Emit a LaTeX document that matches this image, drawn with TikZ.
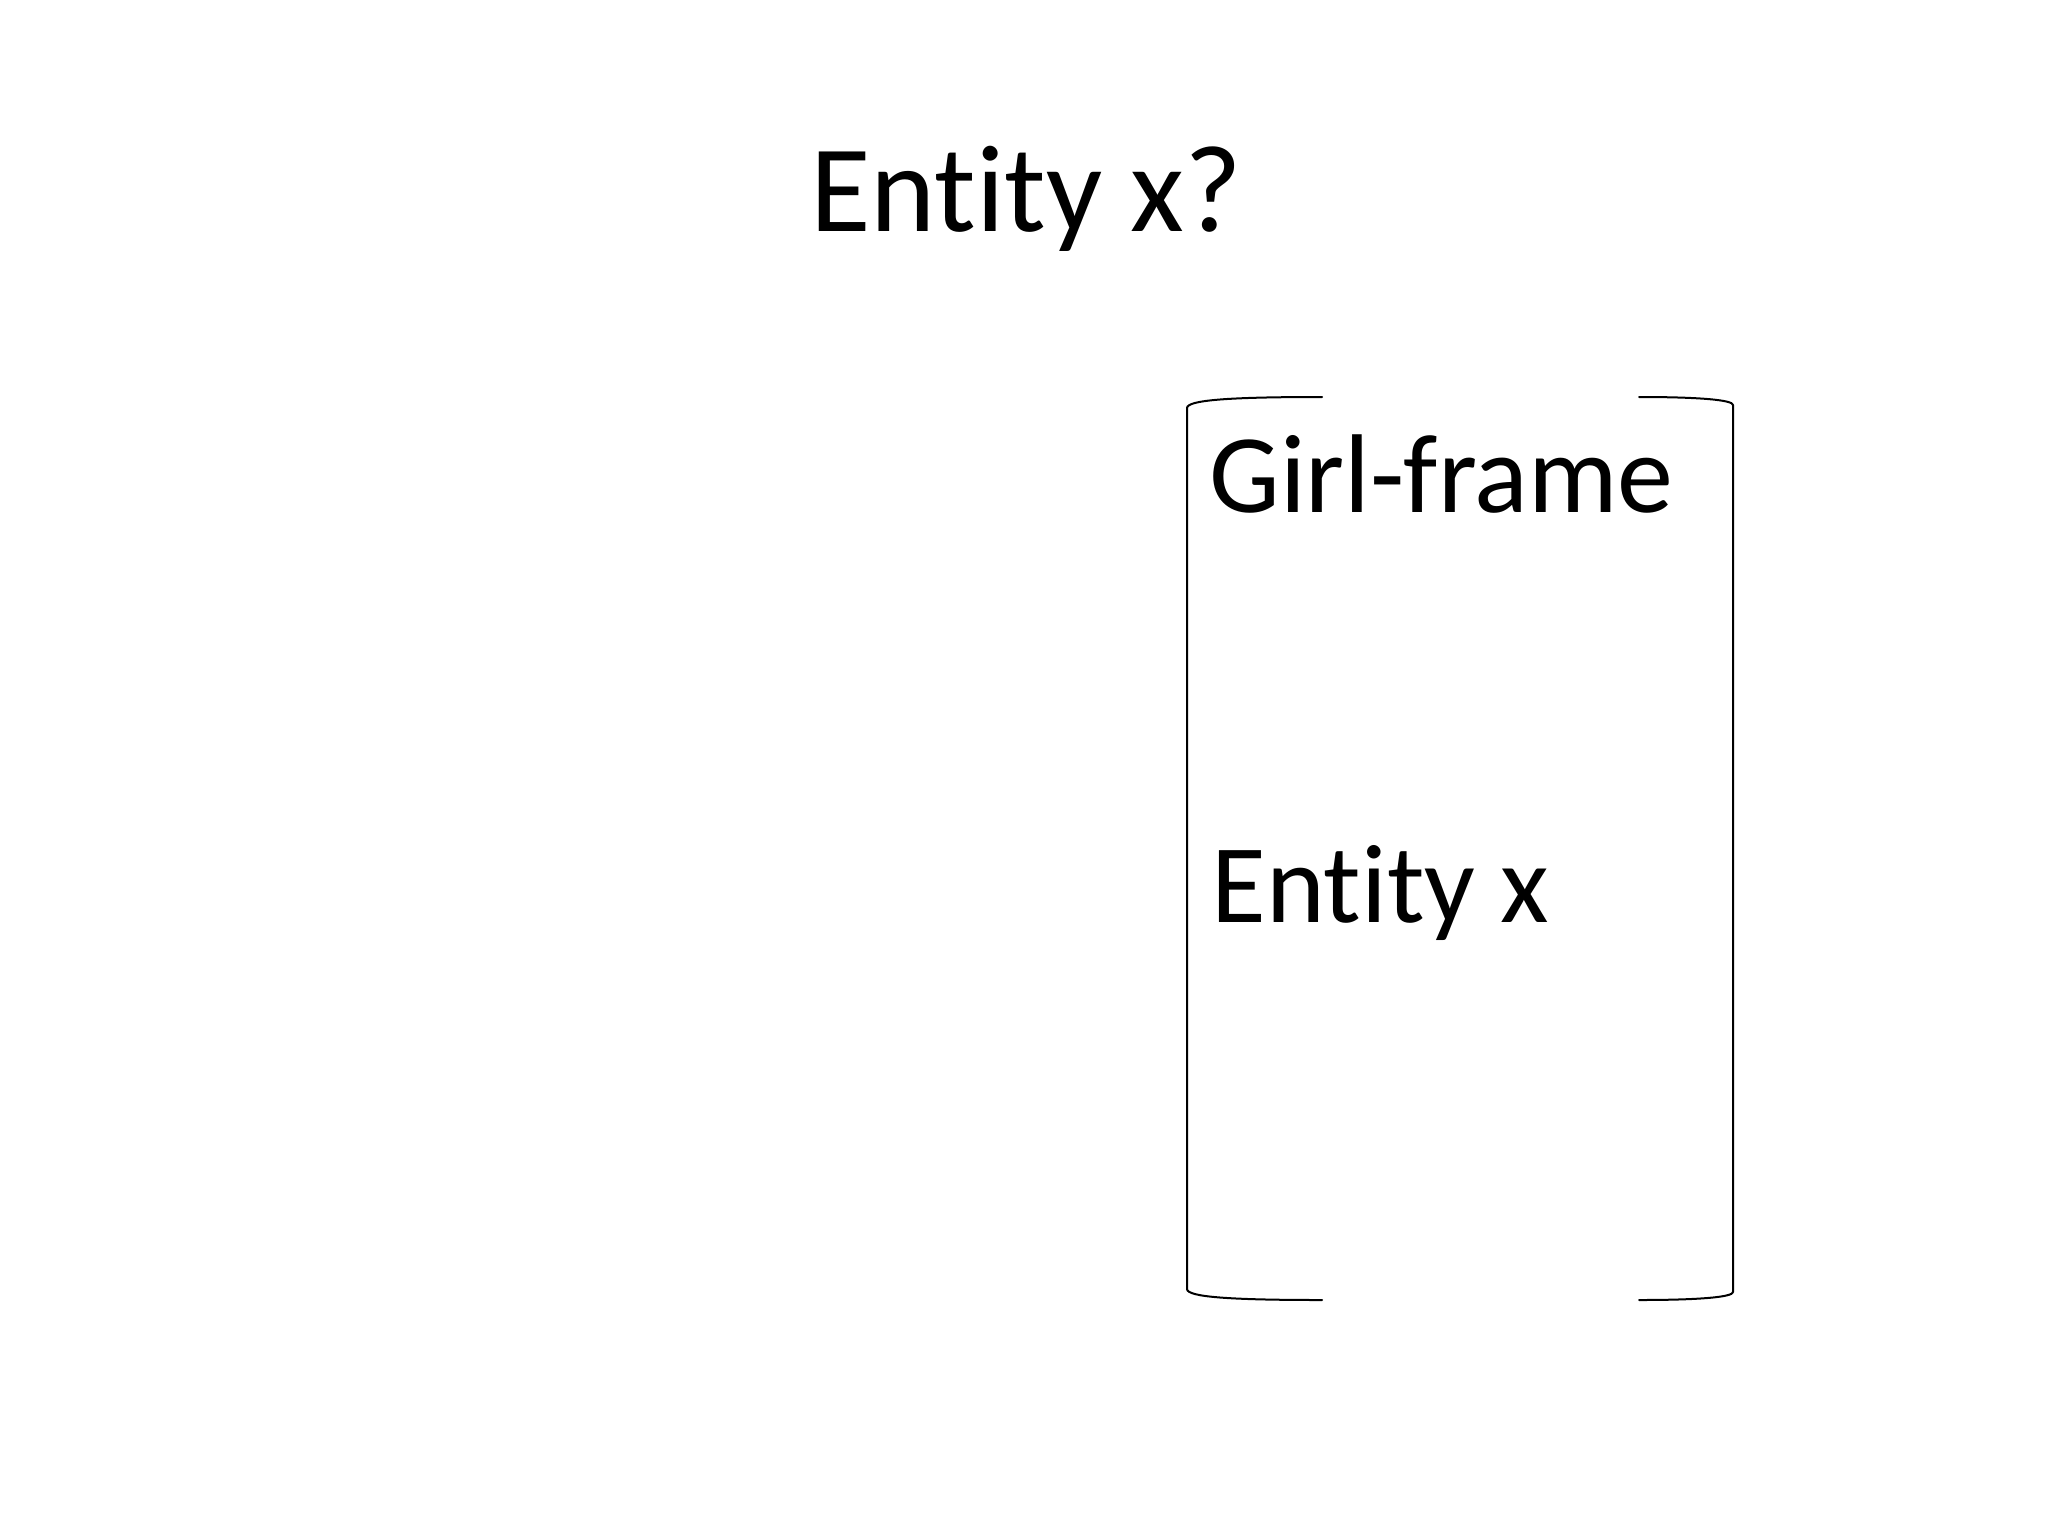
\documentclass[tikz,border=0pt]{standalone}
\usepackage{fontspec}
\setmainfont{Carlito}[RawFeature={-liga}]
\begin{document}
\begin{tikzpicture}[x=0.5pt,y=-0.5pt,
  lbl/.style={inner sep=0pt, anchor=base west, font=\fontsize{56}{62}\selectfont},
  brk/.style={line width=1pt, line cap=round, line join=round}]
\useasboundingbox (0,0) rectangle (2048,1536);
\node[inner sep=0pt, anchor=base, font=\fontsize{62}{68}\selectfont] (title) at (1026,231) {Entity x?};
\node[lbl] (girl) at (1209,512) {Girl-frame};
\node[lbl] (ent) at (1211,922) {Entity x};
\coordinate (tl) at (1322,397);
\coordinate (bl) at (1322,1300);
\coordinate (tr) at (1639,397);
\coordinate (br) at (1639,1300);
\draw[brk] (tl) .. controls (1230,397) and (1187,400) .. (1187,408) -- (1187,1289) .. controls (1187,1297) and (1230,1300) .. (bl);
\draw[brk] (tr) .. controls (1700,397) and (1733,400) .. (1733,405) -- (1733,1292) .. controls (1733,1297) and (1700,1300) .. (br);
\end{tikzpicture}
\end{document}
